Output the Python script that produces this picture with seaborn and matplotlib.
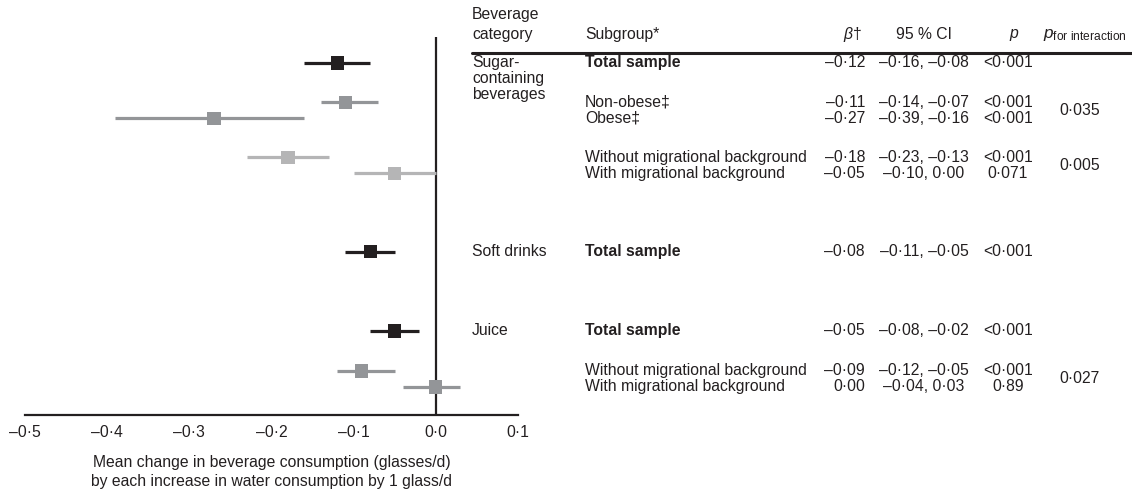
"""
Forest plot: change in beverage consumption per extra glass of water,
with the accompanying results table on the right.
"""

import numpy as np
import pandas as pd
import matplotlib
matplotlib.use("Agg")
import matplotlib.pyplot as plt
import seaborn as sns

sns.set_style("white")
plt.rcParams['font.family'] = ['Liberation Sans', 'DejaVu Sans']
plt.rcParams['mathtext.fontset'] = 'custom'
plt.rcParams['mathtext.rm'] = 'Liberation Sans'
plt.rcParams['mathtext.it'] = 'Liberation Sans:italic'

# ---- data ----
categories = ['Sugar-containing beverages'] * 5 + ['Soft drinks'] + ['Juice'] * 3
subgroups = ['Total sample', 'Non-obese‡', 'Obese‡',
             'Without migrational background', 'With migrational background',
             'Total sample',
             'Total sample',
             'Without migrational background', 'With migrational background']
beta = [-0.12, -0.11, -0.27, -0.18, -0.05, -0.08, -0.05, -0.09, 0.00]
ci_low = [-0.16, -0.14, -0.39, -0.23, -0.10, -0.11, -0.08, -0.12, -0.04]
ci_high = [-0.08, -0.07, -0.16, -0.13, 0.00, -0.05, -0.02, -0.05, 0.03]
p_values = ['<0·001', '<0·001', '<0·001', '<0·001', '0·071',
            '<0·001', '<0·001', '<0·001', '0·89']
# analysis level: 0 = total sample, 1 = first subgroup split, 2 = second split
level = [0, 1, 1, 2, 2, 0, 0, 1, 1]
# p for interaction, given for pairs of rows
p_interaction = {(1, 2): '0·035', (3, 4): '0·005', (7, 8): '0·027'}
x_ticks = [-0.5, -0.4, -0.3, -0.2, -0.1, 0.0, 0.1]

# ---- layout (row slots, 1 slot = one text line) ----
row_y = [0, 2.45, 3.45, 5.9, 6.9, 11.8, 16.75, 19.25, 20.25]
shades = {0: '#231f20', 1: '#939598', 2: '#b5b5b6'}
FS = 11.3
TXT = '#231f20'


def fmt(v, nd=2):
    s = f"{v:.{nd}f}".replace('.', '·')
    return s.replace('-', '–')


df = pd.DataFrame({'category': categories, 'subgroup': subgroups,
                   'beta': beta, 'lo': ci_low, 'hi': ci_high,
                   'p': p_values, 'level': level, 'y': row_y})

W, H = 1132, 491
fig = plt.figure(figsize=(W / 100, H / 100), dpi=100)

# forest axes: x from -0.5 (px 25) to 0.1 (px 518), y px 37..415
y_top, y_bot = -1.625, 22.0
ax = fig.add_axes([25 / W, 1 - 415 / H, 493 / W, (415 - 37) / H])

for _, r in df.iterrows():
    ax.hlines(r['y'], r['lo'], r['hi'], color=shades[r['level']], lw=2.3, zorder=2)
sns.scatterplot(data=df, x='beta', y='y', hue='level', palette=shades,
                marker='s', s=90, linewidth=0, legend=False, zorder=3, ax=ax)
ax.axvline(0, color=TXT, lw=1.6, zorder=1)

ax.set_xlim(-0.5, 0.1)
ax.set_ylim(y_bot, y_top)
ax.set_xticks(x_ticks)
ax.set_xticklabels([fmt(t, 1) for t in x_ticks])
ax.set_yticks([])
ax.set_ylabel('')
for s in ['top', 'right', 'left']:
    ax.spines[s].set_visible(False)
ax.spines['bottom'].set_linewidth(1.6)
ax.spines['bottom'].set_color(TXT)
ax.tick_params(axis='x', direction='in', length=4, width=1.6, color=TXT,
               labelsize=FS, labelcolor=TXT, pad=7)
ax.set_xlabel('Mean change in beverage consumption (glasses/d)\n'
              'by each increase in water consumption by 1 glass/d',
              fontsize=FS, color=TXT, labelpad=11, linespacing=1.3)

# table axes: full width, same vertical scale, reaching the top of the figure
tab = fig.add_axes([0, 1 - 415 / H, 1, 415 / H])
tab.set_xlim(0, W)
tab.set_ylim(y_bot, y_top - 37 / 16)
tab.axis('off')

col_cat, col_sub, col_beta, col_ci, col_p, col_pint = 472, 585, 865, 924, 1008, 1080
hdr = -1.75
tab.text(col_cat, -3.06, 'Beverage', fontsize=FS, color=TXT, va='center')
tab.text(col_cat, hdr, 'category', fontsize=FS, color=TXT, va='center')
tab.text(col_sub, hdr, 'Subgroup*', fontsize=FS, color=TXT, va='center')
tab.text(col_beta - 12, hdr, r'$\beta$†', fontsize=FS, color=TXT, va='center', ha='center')
tab.text(col_ci, hdr, '95 % CI', fontsize=FS, color=TXT, va='center', ha='center')
tab.text(col_p + 6, hdr, r'$p$', fontsize=FS, color=TXT, va='center', ha='center')
tab.text(1085, hdr, r'$p_{\mathrm{for\ interaction}}$', fontsize=FS + 1, color=TXT,
         va='center', ha='center')
tab.plot([472, W], [-0.6, -0.6], color=TXT, lw=2.2, clip_on=False)

# category labels
for k, line in enumerate(['Sugar-', 'containing', 'beverages']):
    tab.text(col_cat, row_y[0] + k, line, fontsize=FS, color=TXT, va='center')
tab.text(col_cat, row_y[5], 'Soft drinks', fontsize=FS, color=TXT, va='center')
tab.text(col_cat, row_y[6], 'Juice', fontsize=FS, color=TXT, va='center')

for _, r in df.iterrows():
    bold = 'bold' if r['subgroup'] == 'Total sample' else 'normal'
    tab.text(col_sub, r['y'], r['subgroup'], fontsize=FS, color=TXT,
             va='center', fontweight=bold)
    tab.text(col_beta, r['y'], fmt(r['beta']), fontsize=FS, color=TXT,
             va='center', ha='right')
    tab.text(col_ci, r['y'], f"{fmt(r['lo'])}, {fmt(r['hi'])}", fontsize=FS,
             color=TXT, va='center', ha='center')
    tab.text(col_p, r['y'], r['p'], fontsize=FS, color=TXT, va='center', ha='center')

for (i, j), val in p_interaction.items():
    tab.text(col_pint, (row_y[i] + row_y[j]) / 2, val, fontsize=FS, color=TXT,
             va='center', ha='center')

fig.savefig('out.png', dpi=100, facecolor='white')
